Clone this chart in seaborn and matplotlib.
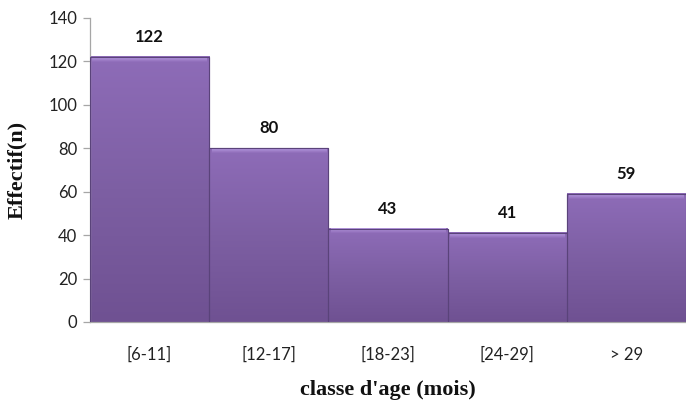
import numpy as np
import pandas as pd
import matplotlib
matplotlib.use("Agg")
import matplotlib.pyplot as plt
import seaborn as sns
from matplotlib.colors import LinearSegmentedColormap

categories = ["[6-11]", "[12-17]", "[18-23]", "[24-29]", "> 29"]
counts = [122, 80, 43, 41, 59]
y_ticks = [0, 20, 40, 60, 80, 100, 120, 140]

df = pd.DataFrame({"classe": categories, "effectif": counts})

sns.set_theme(style="white")
plt.rcParams["font.family"] = ["Lato", "DejaVu Sans"]

fig = plt.figure(figsize=(6.86, 4.05), dpi=100)
ax = fig.add_axes([0.1312, 0.205, 0.8688, 0.751])

sns.barplot(data=df, x="classe", y="effectif", ax=ax, width=1.0,
            color="#8064A2", edgecolor="#5E4680", linewidth=0.8, saturation=1)

ax.set_xlim(-0.5, len(categories) - 0.5)
ax.set_ylim(0, 140)
ax.set_yticks(y_ticks)

# vertical purple gradient with a light bevel on top of each bar
grad = LinearSegmentedColormap.from_list("purple", ["#6F5192", "#7D5FA3", "#8E6CB8"])
bevel = LinearSegmentedColormap.from_list("bevel", ["#8E6CB8", "#B79AE0"])
for patch in ax.patches:
    x0, y0 = patch.get_x(), patch.get_y()
    w, h = patch.get_width(), patch.get_height()
    img = np.linspace(0, 1, 256).reshape(-1, 1)
    ax.imshow(img, cmap=grad, origin="lower", aspect="auto",
              extent=(x0, x0 + w, y0, y0 + h), zorder=2, clip_path=patch,
              clip_on=True)
    ax.imshow(img, cmap=bevel, origin="lower", aspect="auto",
              extent=(x0 + 0.02, x0 + w - 0.02, y0 + h - 2.2, y0 + h), zorder=2.5)
    ax.add_patch(plt.Rectangle((x0, y0), w, h, fill=False,
                               edgecolor="#5A437A", linewidth=0.8, zorder=3))
    ax.text(x0 + w / 2, y0 + h + 5.5, f"{int(round(h))}", ha="center", va="bottom",
            fontsize=12, fontweight="bold", color="#111111", zorder=4)

ax.set_xlim(-0.5, len(categories) - 0.5)
ax.set_ylim(0, 140)

for s in ["top", "right"]:
    ax.spines[s].set_visible(False)
ax.spines["left"].set_color("#A6A6A6")
ax.spines["bottom"].set_color("#A6A6A6")
ax.spines["left"].set_linewidth(0.9)
ax.spines["bottom"].set_linewidth(0.9)

ax.tick_params(axis="y", which="major", left=True, length=5, width=0.9,
               color="#A6A6A6", labelsize=12, labelcolor="#222222", pad=4)
ax.tick_params(axis="x", bottom=False, labelsize=12, labelcolor="#222222", pad=12)

ax.set_xlabel("classe d'age (mois)", family="Liberation Serif", fontweight="bold",
              fontsize=16, color="#111111")
ax.xaxis.set_label_coords(0.5, -0.224)
ax.xaxis.label.set_va("center")
ax.set_ylabel("Effectif(n)", family="Liberation Serif", fontweight="bold",
              fontsize=16, color="#111111")
ax.yaxis.set_label_coords(-0.122, 0.5)
ax.yaxis.label.set_va("center")

fig.savefig("out.png", dpi=100)
